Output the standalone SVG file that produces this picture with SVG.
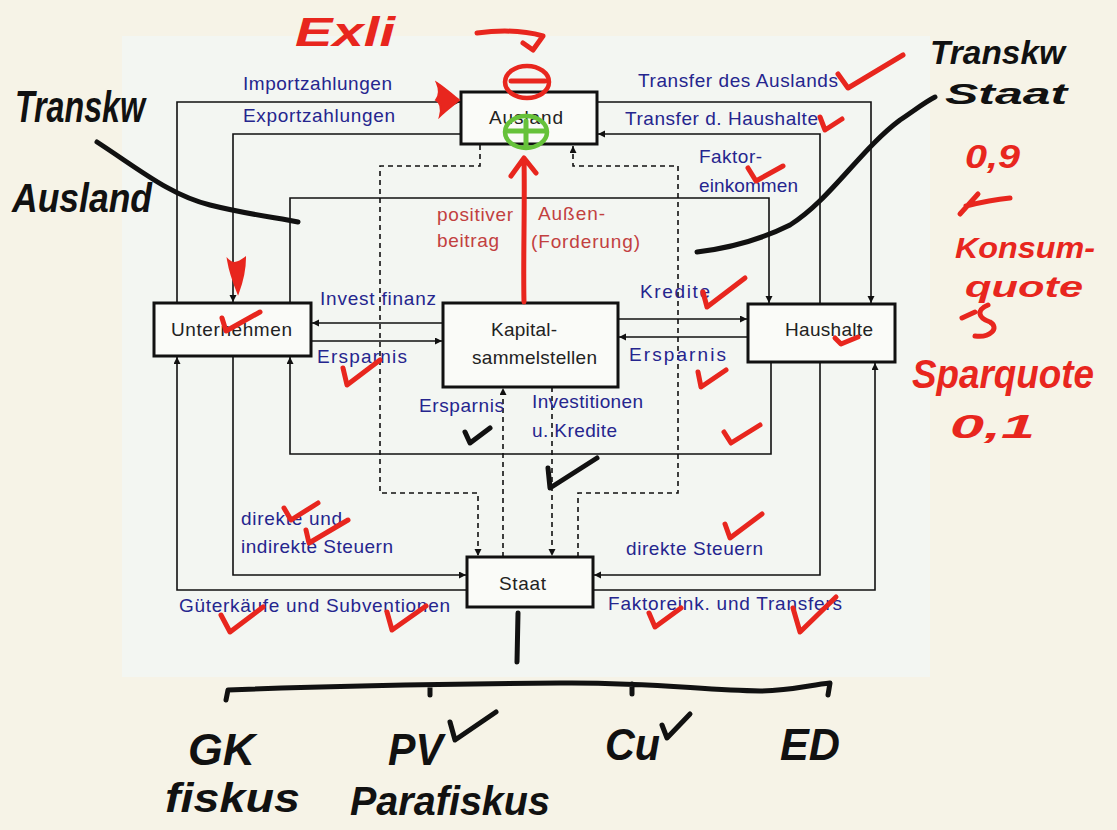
<svg xmlns="http://www.w3.org/2000/svg" width="1117" height="830" viewBox="0 0 1117 830">
<defs>
<marker id="arr" markerUnits="userSpaceOnUse" markerWidth="8" markerHeight="8" refX="7" refY="3.5" orient="auto"><path d="M0,0 L7,3.5 L0,7 z" fill="#111"/></marker>
<style>
.ln{fill:none;stroke:#111;stroke-width:1.6}
.ds{fill:none;stroke:#111;stroke-width:1.6;stroke-dasharray:5 4}
.box{fill:#fafbf8;stroke:#111;stroke-width:3}
.nt{font-family:"Liberation Sans",Arial,sans-serif;font-size:19px;fill:#222}
.lb{font-family:"Liberation Sans",Arial,sans-serif;font-size:19px;fill:#25258e}
.rl{font-family:"Liberation Sans",Arial,sans-serif;font-size:19px;fill:#c2403f}
.hw{font-family:"Liberation Sans",Arial,sans-serif;font-weight:bold;font-style:italic}
.hb{fill:#111}
.hr{fill:#e8261e}
.ck{fill:none;stroke:#e8261e;stroke-width:5;stroke-linecap:round;stroke-linejoin:round}
.kb{fill:none;stroke:#111;stroke-width:5;stroke-linecap:round;stroke-linejoin:round}
</style>
</defs>
<rect x="0" y="0" width="1117" height="830" fill="#f6f3e7"/>
<rect x="122" y="36" width="808" height="641" fill="#f3f6f2"/>

<g id="connectors">
<path class="ln" d="M177,303 V102 H460" marker-end="url(#arr)"/>
<path class="ln" d="M461,134 H233 V302" marker-end="url(#arr)"/>
<path class="ln" d="M290,303 V198 H769 V303" marker-end="url(#arr)"/>
<path class="ln" d="M597,102 H871 V303" marker-end="url(#arr)"/>
<path class="ln" d="M820,304 V134 H598" marker-end="url(#arr)"/>
<path class="ln" d="M443,323 H312" marker-end="url(#arr)"/>
<path class="ln" d="M311,341 H442" marker-end="url(#arr)"/>
<path class="ln" d="M618,319 H747" marker-end="url(#arr)"/>
<path class="ln" d="M748,337 H619" marker-end="url(#arr)"/>
<path class="ln" d="M771,362 V454 H290 V357" marker-end="url(#arr)"/>
<path class="ln" d="M233,356 V575 H466" marker-end="url(#arr)"/>
<path class="ln" d="M467,590 H177 V357" marker-end="url(#arr)"/>
<path class="ln" d="M820,362 V575 H594" marker-end="url(#arr)"/>
<path class="ln" d="M593,590 H875 V363" marker-end="url(#arr)"/>
<path class="ds" d="M480,145 V166 H380 V493 H478 V556" marker-end="url(#arr)"/>
<path class="ds" d="M578,557 V493 H678 V166 H573 V146" marker-end="url(#arr)"/>
<path class="ds" d="M503,557 V388" marker-end="url(#arr)"/>
<path class="ds" d="M552,387 V556" marker-end="url(#arr)"/>
</g>

<g id="node-ausland"><rect class="box" x="461" y="92" width="136" height="52"/><text class="nt" x="489" y="124" textLength="74">Ausland</text></g>
<g id="node-unternehmen"><rect class="box" x="154" y="303" width="157" height="53"/><text class="nt" x="171" y="336" textLength="121">Unternehmen</text></g>
<g id="node-kapital"><rect class="box" x="443" y="303" width="175" height="84"/><text class="nt" x="491" y="336" textLength="66">Kapital-</text><text class="nt" x="472" y="364" textLength="125">sammelstellen</text></g>
<g id="node-haushalte"><rect class="box" x="748" y="304" width="147" height="58"/><text class="nt" x="785" y="336" textLength="88">Haushalte</text></g>
<g id="node-staat"><rect class="box" x="467" y="557" width="126" height="50"/><text class="nt" x="499" y="590" textLength="47">Staat</text></g>

<g id="labels">
<text class="lb" x="243" y="90" textLength="149">Importzahlungen</text>
<text class="lb" x="243" y="122" textLength="152">Exportzahlungen</text>
<text class="lb" x="638" y="87" textLength="200">Transfer des Auslands</text>
<text class="lb" x="625" y="125" textLength="193">Transfer d. Haushalte</text>
<text class="lb" x="699" y="163" textLength="63">Faktor-</text>
<text class="lb" x="699" y="192" textLength="99">einkommen</text>
<text class="rl" x="437" y="221" textLength="76">positiver</text>
<text class="rl" x="437" y="247" textLength="62">beitrag</text>
<text class="rl" x="538" y="220" textLength="67">Außen-</text>
<text class="rl" x="531" y="248" textLength="109">(Forderung)</text>
<text class="lb" x="320" y="305" textLength="116">Invest finanz</text>
<text class="lb" x="317" y="363" textLength="90">Ersparnis</text>
<text class="lb" x="640" y="298" textLength="70">Kredite</text>
<text class="lb" x="629" y="361" textLength="97">Ersparnis</text>
<text class="lb" x="419" y="412" textLength="85">Ersparnis</text>
<text class="lb" x="532" y="408" textLength="111">Investitionen</text>
<text class="lb" x="532" y="437" textLength="85">u. Kredite</text>
<text class="lb" x="241" y="525" textLength="101">direkte und</text>
<text class="lb" x="241" y="553" textLength="152">indirekte Steuern</text>
<text class="lb" x="179" y="612" textLength="271">Güterkäufe und Subventionen</text>
<text class="lb" x="626" y="555" textLength="137">direkte Steuern</text>
<text class="lb" x="608" y="610" textLength="234">Faktoreink. und Transfers</text>
</g>

<g id="annotations">
<text class="hw hr" x="295" y="46" font-size="40" textLength="100" lengthAdjust="spacingAndGlyphs">Exli</text>
<path class="ck" d="M477,33 Q515,28 543,36 L533,50 M523,43 L533,50"/>
<ellipse cx="527" cy="82" rx="22" ry="16" fill="none" stroke="#e8261e" stroke-width="4.5"/>
<path class="ck" d="M511,81 L545,81"/>
<ellipse cx="526" cy="132" rx="21" ry="16" fill="none" stroke="#66c23a" stroke-width="4.5"/>
<path d="M508,131 L546,131 M526,121 L526,147" fill="none" stroke="#66c23a" stroke-width="5" stroke-linecap="round"/>
<path class="ck" d="M524,302 C523,260 525,205 524,160 M511,176 L524,158 L536,173"/>
<path d="M437,83 C445,88 452,95 459,100 C452,106 446,110 440,116 C442,108 441,103 436,100 C440,95 440,90 437,83 z" fill="#e8261e" stroke="#e8261e" stroke-width="2"/>
<path d="M228,260 C233,265 238,263 245,258 C245,270 242,282 238,293 C234,283 230,272 228,260 z" fill="#e8261e" stroke="#e8261e" stroke-width="2"/>
<path class="ck" d="M838,74 L848,88 L903,55"/>
<path class="ck" d="M820,117 L825,130 L842,119"/>
<path class="ck" d="M748,168 L756,181 L783,166"/>
<path class="ck" d="M703,292 L707,307 L745,278"/>
<path class="ck" d="M835,338 L841,344 L858,337"/>
<path class="ck" d="M698,372 L701,387 L726,370"/>
<path class="ck" d="M724,432 L731,443 L760,425"/>
<path class="ck" d="M343,368 L347,385 L380,360"/>
<path class="ck" d="M222,318 L226,331 L260,312"/>
<path class="ck" d="M284,508 L291,520 L318,503"/>
<path class="ck" d="M306,530 L309,543 L348,520"/>
<path class="ck" d="M221,615 L230,632 L263,607"/>
<path class="ck" d="M387,612 L392,630 L426,606"/>
<path class="ck" d="M725,524 L730,538 L762,514"/>
<path class="ck" d="M649,613 L655,627 L681,608"/>
<path class="ck" d="M793,608 L800,632 L836,597"/>
<path class="kb" d="M465,432 L470,443 L490,428"/>
<path class="kb" d="M548,468 L550,488 L597,458"/>
<path class="kb" d="M97,142 C140,170 170,195 210,205 C250,215 280,218 298,222"/>
<path class="kb" d="M697,252 C730,248 760,240 790,225 C830,200 860,150 900,120 C915,110 925,102 935,97"/>
<path class="kb" d="M518,613 L517,662"/>
<path class="kb" d="M226,700 L228,690 C330,686 450,684 560,683 C650,682 700,690 760,691 C790,691 810,685 830,683 L828,695 M430,685 L430,695 M632,684 L632,694"/>
<text class="hw hb" x="15" y="122" font-size="44" textLength="130" lengthAdjust="spacingAndGlyphs">Transkw</text>
<text class="hw hb" x="12" y="212" font-size="40" textLength="140" lengthAdjust="spacingAndGlyphs">Ausland</text>
<text class="hw hb" x="930" y="64" font-size="34" textLength="135" lengthAdjust="spacingAndGlyphs">Transkw</text>
<text class="hw hb" x="945" y="104" font-size="30" textLength="122" lengthAdjust="spacingAndGlyphs">Staat</text>
<text class="hw hr" x="965" y="168" font-size="34" textLength="55" lengthAdjust="spacingAndGlyphs">0,9</text>
<path class="ck" d="M960,214 L978,194 M966,206 Q990,200 1010,198"/>
<text class="hw hr" x="955" y="258" font-size="30" textLength="140" lengthAdjust="spacingAndGlyphs">Konsum-</text>
<text class="hw hr" x="965" y="297" font-size="30" textLength="118" lengthAdjust="spacingAndGlyphs">quote</text>
<path class="ck" d="M962,318 L975,312 M988,305 C976,310 978,318 990,322 C1000,328 990,338 975,336"/>
<text class="hw hr" x="912" y="388" font-size="40" textLength="182" lengthAdjust="spacingAndGlyphs">Sparquote</text>
<text class="hw hr" x="950" y="438" font-size="34" textLength="85" lengthAdjust="spacingAndGlyphs">0,1</text>
<text class="hw hb" x="188" y="765" font-size="44" textLength="67" lengthAdjust="spacingAndGlyphs">GK</text>
<text class="hw hb" x="165" y="812" font-size="40" textLength="135" lengthAdjust="spacingAndGlyphs">fiskus</text>
<text class="hw hb" x="388" y="765" font-size="44" textLength="55" lengthAdjust="spacingAndGlyphs">PV</text>
<path class="kb" d="M450,722 L455,740 L496,712"/>
<text class="hw hb" x="350" y="815" font-size="40" textLength="200" lengthAdjust="spacingAndGlyphs">Parafiskus</text>
<text class="hw hb" x="605" y="760" font-size="44" textLength="55" lengthAdjust="spacingAndGlyphs">Cu</text>
<path class="kb" d="M662,725 L667,738 L690,714"/>
<text class="hw hb" x="780" y="760" font-size="44" textLength="60" lengthAdjust="spacingAndGlyphs">ED</text>
</g>
</svg>
